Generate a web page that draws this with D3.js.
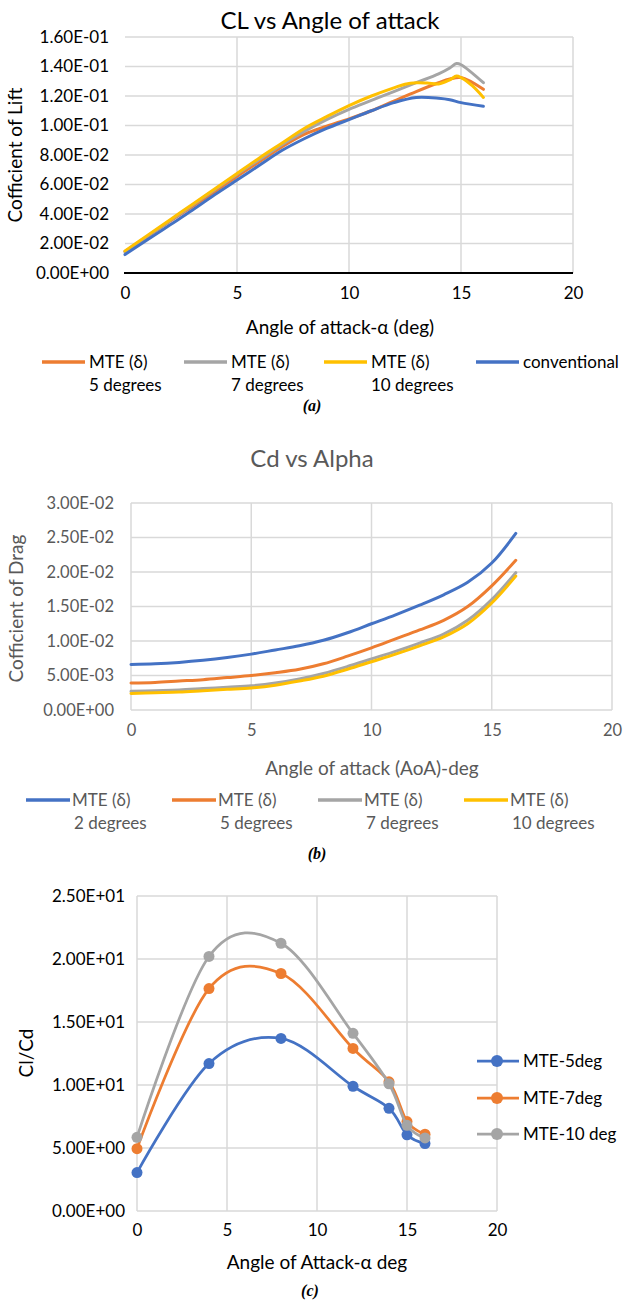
<!DOCTYPE html>
<html><head><meta charset="utf-8">
<script src="https://cdn.jsdelivr.net/npm/d3@7"></script>
<style>body{margin:0;background:#fff}svg{display:block}</style>
</head><body>
<script>
// ---------- DATA ----------
// Panel (a): CL vs angle of attack
const aTitle = "CL vs Angle of attack";
const aAlpha5  = [0,1,2,3,4,5,6,7,8,9,10,11,12,13,14,14.5,15,16];
const aCL5     = [0.0145,0.0245,0.035,0.045,0.055,0.0655,0.0755,0.0855,0.094,0.0995,0.1045,0.110,0.1165,0.123,0.129,0.1315,0.1325,0.1245];
const aAlpha7  = [0,1,2,3,4,5,6,7,8,9,10,11,12,13,14,14.5,14.8,15,16];
const aCL7     = [0.0145,0.025,0.0355,0.046,0.0565,0.067,0.077,0.087,0.096,0.104,0.111,0.117,0.123,0.129,0.135,0.139,0.142,0.1412,0.129];
const aAlpha10 = [0,1,2,3,4,5,6,7,8,9,10,11,12,12.5,13,13.5,14,14.5,14.8,15,15.5,16];
const aCL10    = [0.015,0.0255,0.036,0.0465,0.057,0.0675,0.078,0.088,0.098,0.106,0.1135,0.120,0.1255,0.128,0.129,0.1288,0.1282,0.131,0.1335,0.1325,0.127,0.119];
const aAlphaC  = [0,1,2,3,4,5,6,7,8,9,10,11,12,13,14,14.5,15,16];
const aCLC     = [0.0125,0.0225,0.0325,0.0425,0.053,0.063,0.073,0.083,0.091,0.098,0.104,0.110,0.1155,0.119,0.1185,0.1175,0.1155,0.113];
const aYTicks  = [0,0.02,0.04,0.06,0.08,0.10,0.12,0.14,0.16];
const aXTicks  = [0,5,10,15,20];
const aLegend  = [["MTE (δ)","5 degrees"],["MTE (δ)","7 degrees"],["MTE (δ)","10 degrees"],["conventional",""]];

// Panel (b): Cd vs alpha
const bTitle = "Cd vs Alpha";
const bAlpha = [0,1,2,3,4,5,6,7,8,9,10,11,12,13,14,15,16];
const bCd2   = [0.0066,0.0067,0.0069,0.0072,0.0076,0.0081,0.0087,0.0093,0.0101,0.0112,0.0125,0.0138,0.0152,0.0167,0.0185,0.0213,0.0256];
const bCd5   = [0.0039,0.0040,0.0042,0.0044,0.0047,0.0050,0.0054,0.0059,0.0067,0.0078,0.0090,0.0103,0.0116,0.0130,0.0150,0.0180,0.0217];
const bCd7   = [0.0027,0.0028,0.0029,0.0031,0.0033,0.0035,0.0039,0.0045,0.0053,0.0063,0.0074,0.0085,0.0097,0.0110,0.0130,0.0160,0.0199];
const bCd10  = [0.0024,0.0025,0.0026,0.0028,0.0030,0.0032,0.0036,0.0042,0.0049,0.0059,0.0070,0.0081,0.0093,0.0106,0.0125,0.0155,0.0194];
const bYTicks = [0,0.005,0.01,0.015,0.02,0.025,0.03];
const bXTicks = [0,5,10,15,20];
const bLegend = [["MTE (δ)","2 degrees"],["MTE (δ)","5 degrees"],["MTE (δ)","7 degrees"],["MTE (δ)","10 degrees"]];

// Panel (c): Cl/Cd
const cAlpha = [0,4,8,12,14,15,16];
const cLD5   = [3.05,11.7,13.7,9.9,8.15,6.05,5.35];
const cLD7   = [4.95,17.65,18.85,12.9,10.25,7.1,6.1];
const cLD10  = [5.85,20.2,21.25,14.1,10.1,6.8,5.8];
const cYTicks = [0,5,10,15,20,25];
const cXTicks = [0,5,10,15,20];
const cLegend = ["MTE-5deg","MTE-7deg","MTE-10 deg"];

// ---------- STYLE ----------
const C = {blue:"#4472C4", orange:"#ED7D31", gray:"#A5A5A5", yellow:"#FFC000", grid:"#D9D9D9"};
const FONT = "Lato, 'Open Sans', sans-serif";
const fmtE = v => { const [m,e] = v.toExponential(2).split("e"); return m + "E" + e[0] + e.slice(1).padStart(2,"0"); };

const svg = d3.select("body").append("svg").attr("width",624).attr("height",1304)
  .style("font-family",FONT);
const defs = svg.append("defs");
const grad = defs.append("linearGradient").attr("id","yaxisGrad").attr("x1",0).attr("x2",0).attr("y1",0).attr("y2",1);
grad.append("stop").attr("offset","0%").attr("stop-color","#c5d6ef");
grad.append("stop").attr("offset","55%").attr("stop-color","#5a6f96");
grad.append("stop").attr("offset","100%").attr("stop-color","#000");

function grid(g, x, y, xt, yt, x0, x1, y0, y1){
  g.append("g").selectAll("line").data(yt).join("line").attr("x1",x0).attr("x2",x1)
    .attr("y1",d=>y(d)).attr("y2",d=>y(d)).attr("stroke",C.grid).attr("stroke-width",1.5);
  g.append("g").selectAll("line").data(xt).join("line").attr("y1",y0).attr("y2",y1)
    .attr("x1",d=>x(d)).attr("x2",d=>x(d)).attr("stroke",C.grid).attr("stroke-width",1.5);
}
function axes(g,x,y,xt,yt,L,B,fill,fs,padY,padX){
  const ya=g.append("g").attr("transform",`translate(${L},0)`)
    .call(d3.axisLeft(y).tickValues(yt).tickFormat(fmtE).tickSize(0).tickPadding(padY));
  ya.select(".domain").remove();
  ya.selectAll("text").attr("font-size",fs).attr("font-family",FONT).attr("fill",fill);
  const xa=g.append("g").attr("transform",`translate(0,${B})`)
    .call(d3.axisBottom(x).tickValues(xt).tickSize(0).tickPadding(padX));
  xa.select(".domain").remove();
  xa.selectAll("text").attr("font-size",fs).attr("font-family",FONT).attr("fill",fill);
}
function caption(x,y,t){
  svg.append("text").attr("x",x).attr("y",y).attr("text-anchor","middle")
    .attr("font-family","'Liberation Serif', serif").attr("font-weight","bold").attr("font-style","italic")
    .attr("font-size",16).attr("fill","#000").text(t);
}

// ================= PANEL A =================
{
  const L=125,R=573,T=37,B=273;
  const x=d3.scaleLinear().domain([0,20]).range([L,R]);
  const y=d3.scaleLinear().domain([0,0.16]).range([B,T]);
  const g=svg.append("g");
  g.append("text").attr("x",330).attr("y",29).attr("text-anchor","middle")
    .attr("font-size",24).attr("fill","#000").text(aTitle);
  grid(g,x,y,aXTicks.slice(1),aYTicks.slice(1),L,R,T,B);
  g.append("line").attr("x1",L).attr("x2",L).attr("y1",T).attr("y2",B).attr("stroke","url(#yaxisGrad)").attr("stroke-width",2);
  g.append("line").attr("x1",L-1).attr("x2",R).attr("y1",B).attr("y2",B).attr("stroke","#000").attr("stroke-width",2);
  axes(g,x,y,aXTicks,aYTicks,L,B,"#000",17,16,14);
  g.append("text").attr("transform",`translate(22,${(T+B)/2}) rotate(-90)`).attr("text-anchor","middle")
    .attr("font-size",19).attr("fill","#000").text("Cofficient of Lift");
  g.append("text").attr("x",340).attr("y",334).attr("text-anchor","middle")
    .attr("font-size",19).attr("fill","#000").text("Angle of attack-α (deg)");
  const line=d3.line().x(d=>x(d[0])).y(d=>y(d[1])).curve(d3.curveCatmullRom);
  const order=[[aAlpha5,aCL5,C.orange],[aAlpha7,aCL7,C.gray],[aAlpha10,aCL10,C.yellow],[aAlphaC,aCLC,C.blue]];
  g.selectAll("path.s").data(order).join("path").attr("fill","none")
    .attr("stroke",d=>d[2]).attr("stroke-width",3).attr("stroke-linecap","round")
    .attr("d",d=>line(d[0].map((a,i)=>[a,d[1][i]])));
  const lc=[C.orange,C.gray,C.yellow,C.blue];
  const lx=[42,184,324,476];
  aLegend.forEach((t,i)=>{
    g.append("line").attr("x1",lx[i]).attr("x2",lx[i]+43).attr("y1",362).attr("y2",362)
      .attr("stroke",lc[i]).attr("stroke-width",3.5);
    g.append("text").attr("x",lx[i]+47).attr("y",368).attr("font-size",17).attr("fill","#000").text(t[0]);
    if(t[1]) g.append("text").attr("x",lx[i]+47).attr("y",391).attr("font-size",17).attr("fill","#000").text(t[1]);
  });
  caption(312,411,"(a)");
}

// ================= PANEL B =================
{
  const L=131,R=612,T=503,B=710;
  const x=d3.scaleLinear().domain([0,20]).range([L,R]);
  const y=d3.scaleLinear().domain([0,0.03]).range([B,T]);
  const g=svg.append("g");
  const txt="#595959";
  g.append("text").attr("x",312).attr("y",467).attr("text-anchor","middle")
    .attr("font-size",24).attr("fill",txt).text(bTitle);
  grid(g,x,y,bXTicks,bYTicks,L,R,T,B);
  axes(g,x,y,bXTicks,bYTicks,L,B,txt,16.5,17,14);
  g.append("text").attr("transform",`translate(23,${(T+B)/2+2}) rotate(-90)`).attr("text-anchor","middle")
    .attr("font-size",19).attr("fill",txt).text("Cofficient of Drag");
  g.append("text").attr("x",372).attr("y",775).attr("text-anchor","middle")
    .attr("font-size",19).attr("fill",txt).text("Angle of attack (AoA)-deg");
  const line=d3.line().x(d=>x(d[0])).y(d=>y(d[1])).curve(d3.curveCatmullRom);
  const series=[[bCd2,C.blue],[bCd5,C.orange],[bCd7,C.gray],[bCd10,C.yellow]];
  g.selectAll("path.s").data(series).join("path").attr("fill","none")
    .attr("stroke",d=>d[1]).attr("stroke-width",3).attr("stroke-linecap","round")
    .attr("d",d=>line(bAlpha.map((a,i)=>[a,d[0][i]])));
  const lx=[26,172,318,464];
  bLegend.forEach((t,i)=>{
    g.append("line").attr("x1",lx[i]).attr("x2",lx[i]+44).attr("y1",800).attr("y2",800)
      .attr("stroke",series[i][1]).attr("stroke-width",3.5);
    g.append("text").attr("x",lx[i]+46).attr("y",806).attr("font-size",17).attr("fill",txt).text(t[0]);
    g.append("text").attr("x",lx[i]+48).attr("y",829).attr("font-size",17).attr("fill",txt).text(t[1]);
  });
  caption(317,859,"(b)");
}

// ================= PANEL C =================
{
  const L=137,R=497,T=896,B=1211;
  const x=d3.scaleLinear().domain([0,20]).range([L,R]);
  const y=d3.scaleLinear().domain([0,25]).range([B,T]);
  const g=svg.append("g");
  grid(g,x,y,cXTicks,cYTicks,L,R,T,B);
  axes(g,x,y,cXTicks,cYTicks,L,B,"#000",17,12,13);
  g.append("text").attr("transform",`translate(33,${1053}) rotate(-90)`).attr("text-anchor","middle")
    .attr("font-size",19).attr("fill","#000").text("Cl/Cd");
  g.append("text").attr("x",317).attr("y",1269).attr("text-anchor","middle")
    .attr("font-size",19).attr("fill","#000").text("Angle of Attack-α deg");
  const line=d3.line().x(d=>x(d[0])).y(d=>y(d[1])).curve(d3.curveCardinal.tension(0));
  const series=[[cLD5,C.blue],[cLD7,C.orange],[cLD10,C.gray]];
  series.forEach(s=>{
    const pts=cAlpha.map((a,i)=>[a,s[0][i]]);
    g.append("path").attr("fill","none").attr("stroke",s[1]).attr("stroke-width",2.75).attr("d",line(pts));
    g.append("g").selectAll("circle").data(pts).join("circle").attr("cx",d=>x(d[0])).attr("cy",d=>y(d[1]))
      .attr("r",5.5).attr("fill",s[1]);
  });
  const ly=[1061,1098,1134];
  cLegend.forEach((t,i)=>{
    g.append("line").attr("x1",477).attr("x2",519).attr("y1",ly[i]).attr("y2",ly[i])
      .attr("stroke",series[i][1]).attr("stroke-width",2.75);
    g.append("circle").attr("cx",497).attr("cy",ly[i]).attr("r",6).attr("fill",series[i][1]);
    g.append("text").attr("x",523).attr("y",ly[i]+6).attr("font-size",17).attr("fill","#000").text(t);
  });
  caption(310,1296,"(c)");
}
</script>
</body></html>
